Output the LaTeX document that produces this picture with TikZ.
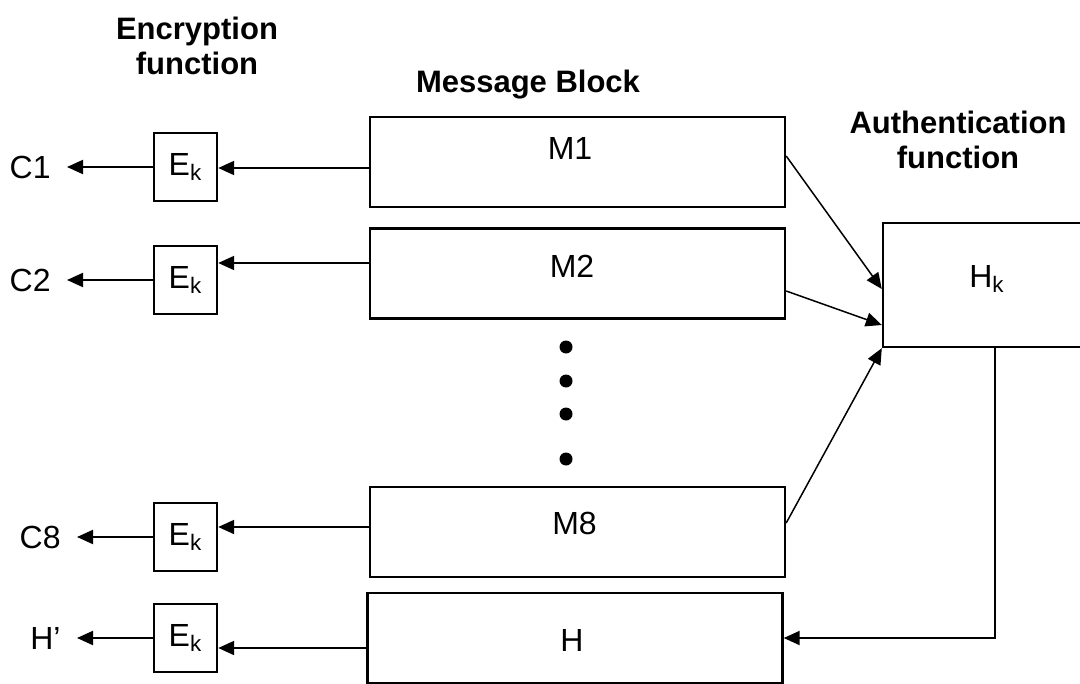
\documentclass[tikz,border=0pt]{standalone}
\usepackage{fontspec}
\setmainfont{Liberation Sans}
\usetikzlibrary{arrows.meta}

\begin{document}
\begin{tikzpicture}[x=0.5pt, y=-0.5pt,
    msgbox/.style={rectangle, draw=black, line width=1.2pt, minimum width=207.5pt, minimum height=45pt, inner sep=0pt},
    msgtext/.style={font=\fontsize{16}{19}\selectfont, inner sep=0pt},
    hashbox/.style={rectangle, draw=black, line width=1.2pt, minimum width=104pt, minimum height=62pt, inner sep=0pt},
    encbox/.style={rectangle, draw=black, line width=1.2pt, minimum width=31.5pt, minimum height=34pt, inner sep=0pt, font=\fontsize{16}{19}\selectfont},
    title/.style={align=center, font=\bfseries\fontsize{15.5}{17.5}\selectfont},
    outlabel/.style={anchor=east, inner xsep=8pt, inner ysep=0pt, font=\fontsize{16}{19}\selectfont},
    arr/.style={line width=1pt, -{Triangle[length=8pt, width=7pt]}},
    thinarr/.style={line width=0.75pt, -{Triangle[length=8pt, width=7pt]}}]
    \useasboundingbox (0,0) rectangle (1080,684);
    \clip (0,0) rectangle (1080,684);
    \node[title] (enctitle) at (197,46) {Encryption\\function};
    \node[title] (msgtitle) at (528,85) {Message Block};
    \node[title] (authtitle) at (958,140) {Authentication\\function};
    \node[msgbox, label={[msgtext, xshift=-3.75pt, yshift=7pt]center:M1}] (m1) at (577.5,162) {};
    \node[msgbox, label={[msgtext, xshift=-2.75pt, yshift=3.5pt]center:M2}] (m2) at (577.5,273.5) {};
    \node[msgbox, label={[msgtext, xshift=-1.5pt, yshift=4.25pt]center:M8}] (m8) at (577.5,532) {};
    \node[msgbox, label={[msgtext, xshift=-1.5pt, yshift=-1.25pt]center:H}] (h) at (575,638) {};
    \node[hashbox, label={[msgtext, yshift=3pt]center:H\textsubscript{k}}] (hk) at (987,285) {};
    \node[encbox] (e1) at (185.5,167) {E\textsubscript{k}};
    \node[encbox] (e2) at (185.5,280) {E\textsubscript{k}};
    \node[encbox] (e8) at (185.5,537) {E\textsubscript{k}};
    \node[encbox] (e9) at (185.5,638) {E\textsubscript{k}};
    \node[outlabel] (c1) at (67,167) {C1};
    \node[outlabel] (c2) at (67,280) {C2};
    \node[outlabel] (c8) at (77,537) {C8};
    \node[outlabel] (hout) at (77,638) {H’};
    \foreach \y in {347,381,414,459}
        \fill (566,\y) circle[radius=3.25pt];
    \draw[arr] ([yshift=-3pt]m1.west) -- ([yshift=-0.5pt]e1.east);
    \draw[arr] ([yshift=5.25pt]m2.west) -- ([yshift=8.5pt]e2.east);
    \draw[arr] ([yshift=2.5pt]m8.west) -- ([yshift=5pt]e8.east);
    \draw[arr] ([yshift=-5pt]h.west) -- ([yshift=-5pt]e9.east);
    \draw[arr] (e1.west) -- (c1.east);
    \draw[arr] (e2.west) -- (c2.east);
    \draw[arr] (e8.west) -- (c8.east);
    \draw[arr] (e9.west) -- (hout.east);
    \draw[thinarr] ([yshift=3pt]m1.east) -- ([yshift=-2pt]hk.west);
    \draw[thinarr] ([yshift=-8.75pt]m2.east) -- ([yshift=-20pt]hk.west);
    \draw[thinarr] ([yshift=4.5pt]m8.east) -- (hk.south west);
    \draw[arr] ([xshift=4pt]hk.south) |- (h.east);
\end{tikzpicture}
\end{document}
